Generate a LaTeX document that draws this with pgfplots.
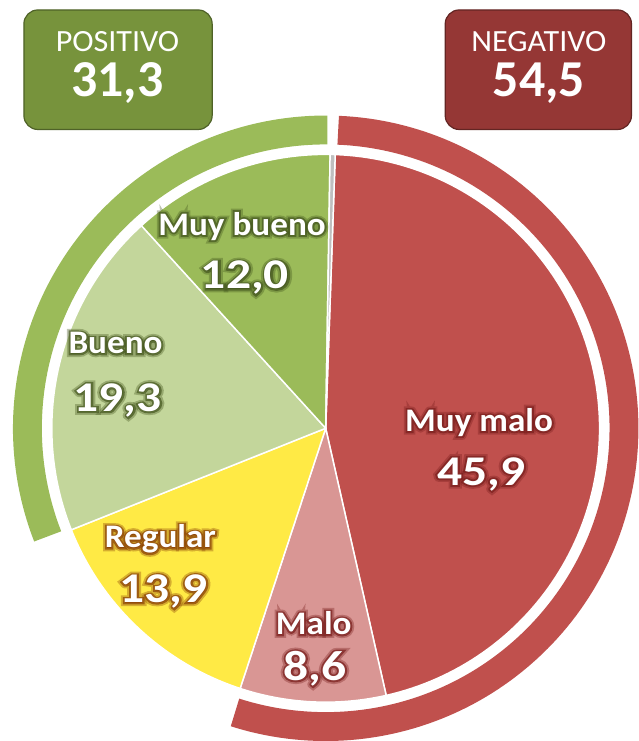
\documentclass[border=0pt]{standalone}
\usepackage{pgfplots}
\pgfplotsset{compat=1.18}
\usepackage{graphicx}
\usepackage{fontspec}
\setmainfont{Carlito}
% emboldened copies used as the soft halo behind the white labels
\newfontfamily\fLabW{Carlito}[BoldFeatures={FakeBold=21}]
\newfontfamily\fLabN{Carlito}[BoldFeatures={FakeBold=11}]
\newfontfamily\fNumW{Carlito}[BoldFeatures={FakeBold=16.5}]
\newfontfamily\fNumN{Carlito}[BoldFeatures={FakeBold=8.5}]

\definecolor{cMuyMalo}{HTML}{C0504D}
\definecolor{cMalo}{HTML}{D99694}
\definecolor{cRegular}{HTML}{FFEA45}
\definecolor{cBueno}{HTML}{C3D69B}
\definecolor{cMuyBueno}{HTML}{9BBB59}
\definecolor{cNs}{HTML}{BFBFBF}
\definecolor{gRed}{HTML}{7A1F1D}
\definecolor{gBrown}{HTML}{8A4006}
\definecolor{gGreen}{HTML}{45571F}
\definecolor{boxPos}{HTML}{77933C}
\definecolor{boxPosLine}{HTML}{4F6228}
\definecolor{boxNeg}{HTML}{953735}
\definecolor{boxNegLine}{HTML}{632523}

% values (percent), clockwise from the top
\def\vMuyMalo{45.9}
\def\vMalo{8.6}
\def\vRegular{13.9}
\def\vBueno{19.3}
\def\vMuyBueno{12.0}
\def\vNs{0.3}

% geometry (pt = px)
\def\cx{327}
\def\cy{311}
\def\R{275}
\def\Rb{299.5}
\def\S{88}
\pgfmathsetmacro\aA{\S-\vMuyMalo*3.6}
\pgfmathsetmacro\aB{\aA-\vMalo*3.6}
\pgfmathsetmacro\aC{\aB-\vRegular*3.6}
\pgfmathsetmacro\aD{\aC-\vBueno*3.6}
\pgfmathsetmacro\aE{\aD-\vMuyBueno*3.6}
\pgfmathsetmacro\aF{\aE-\vNs*3.6}
% outer bands, trimmed a little at the ends
\pgfmathsetmacro\rA{\S-0.4}
\pgfmathsetmacro\rB{\aB+0.5}
\pgfmathsetmacro\gA{\aC-0.5}
\pgfmathsetmacro\gB{\aE+0.6}

\newcommand\tLab[2]{\scalebox{1.07}[1]{\fontsize{33}{36}#1\bfseries #2}}
\newcommand\tNum[2]{\scalebox{1.17}[1]{\fontsize{42.5}{46}#1\bfseries #2}}
% x, y, halo colour, text
\newcommand\gLab[4]{%
  \node[anchor=base,text=#3,opacity=0.35] at (axis cs:#1,#2) {\tLab{\fLabW}{#4}};
  \node[anchor=base,text=#3,opacity=0.7] at (axis cs:#1,#2) {\tLab{\fLabN}{#4}};
  \node[anchor=base,text=white] at (axis cs:#1,#2) {\tLab{\normalfont}{#4}};
}
\newcommand\gNum[4]{%
  \node[anchor=base,text=#3,opacity=0.35] at (axis cs:#1,#2) {\tNum{\fNumW}{#4}};
  \node[anchor=base,text=#3,opacity=0.7] at (axis cs:#1,#2) {\tNum{\fNumN}{#4}};
  \node[anchor=base,text=white] at (axis cs:#1,#2) {\tNum{\normalfont}{#4}};
}

\begin{document}
\begin{tikzpicture}
\begin{axis}[
  width=641pt, height=741pt, scale only axis,
  xmin=0, xmax=641, ymin=0, ymax=741,
  hide axis, clip=false,
]
\addplot[draw=none] coordinates {(0,0) (641,741)};

% pie slices
\addplot[fill=cMuyMalo, draw=white, line width=1.5pt, domain=\aA:\S, samples=120]
  ({\cx+\R*cos(x)},{\cy+\R*sin(x)}) -- (axis cs:\cx,\cy) -- cycle;
\addplot[fill=cMalo, draw=white, line width=1.5pt, domain=\aB:\aA, samples=40]
  ({\cx+\R*cos(x)},{\cy+\R*sin(x)}) -- (axis cs:\cx,\cy) -- cycle;
\addplot[fill=cRegular, draw=white, line width=1.5pt, domain=\aC:\aB, samples=50]
  ({\cx+\R*cos(x)},{\cy+\R*sin(x)}) -- (axis cs:\cx,\cy) -- cycle;
\addplot[fill=cBueno, draw=white, line width=1.5pt, domain=\aD:\aC, samples=60]
  ({\cx+\R*cos(x)},{\cy+\R*sin(x)}) -- (axis cs:\cx,\cy) -- cycle;
\addplot[fill=cMuyBueno, draw=white, line width=1.5pt, domain=\aE:\aD, samples=50]
  ({\cx+\R*cos(x)},{\cy+\R*sin(x)}) -- (axis cs:\cx,\cy) -- cycle;
\addplot[fill=cNs, draw=white, line width=1.5pt, domain=\aF:\aE, samples=5]
  ({\cx+\R*cos(x)},{\cy+\R*sin(x)}) -- (axis cs:\cx,\cy) -- cycle;

% outer bands: negativo and positivo
\addplot[draw=cMuyMalo, line width=29pt, domain=\rB:\rA, samples=150]
  ({\cx+\Rb*cos(x)},{\cy+\Rb*sin(x)});
\addplot[draw=cMuyBueno, line width=29pt, domain=\gB:\gA, samples=100]
  ({\cx+\Rb*cos(x)},{\cy+\Rb*sin(x)});

% slice labels
\gLab{243}{505}{gGreen}{Muy bueno}
\gNum{246}{451}{gGreen}{12,0}
\gLab{116}{386}{gGreen}{Bueno}
\gNum{118}{328}{gGreen}{19,3}
\gLab{161}{191}{gBrown}{Regular}
\gNum{164}{136}{gBrown}{13,9}
\gLab{315}{104}{gRed}{Malo}
\gNum{316}{58}{gRed}{8,6}
\gLab{481}{308}{gRed}{Muy malo}
\gNum{483}{254}{gRed}{45,9}

% summary boxes
\node[fill=boxPos, draw=boxPosLine, line width=1.2pt, rounded corners=14pt,
  minimum width=189pt, minimum height=120pt] at (axis cs:118.5,671) {};
\node[fill=boxNeg, draw=boxNegLine, line width=1.2pt, rounded corners=14pt,
  minimum width=187pt, minimum height=120pt] at (axis cs:540.5,671) {};
\node[anchor=base, text=white, font=\fontsize{31}{34}\selectfont] at (axis cs:118,689) {\scalebox{1.04}[1]{POSITIVO}};
\node[anchor=base, text=white, font=\fontsize{52}{56}\selectfont\bfseries] at (axis cs:118,644) {31,3};
\node[anchor=base, text=white, font=\fontsize{31}{34}\selectfont] at (axis cs:541,689) {\scalebox{1.04}[1]{NEGATIVO}};
\node[anchor=base, text=white, font=\fontsize{52}{56}\selectfont\bfseries] at (axis cs:541,644) {54,5};
\end{axis}
\end{tikzpicture}
\end{document}
